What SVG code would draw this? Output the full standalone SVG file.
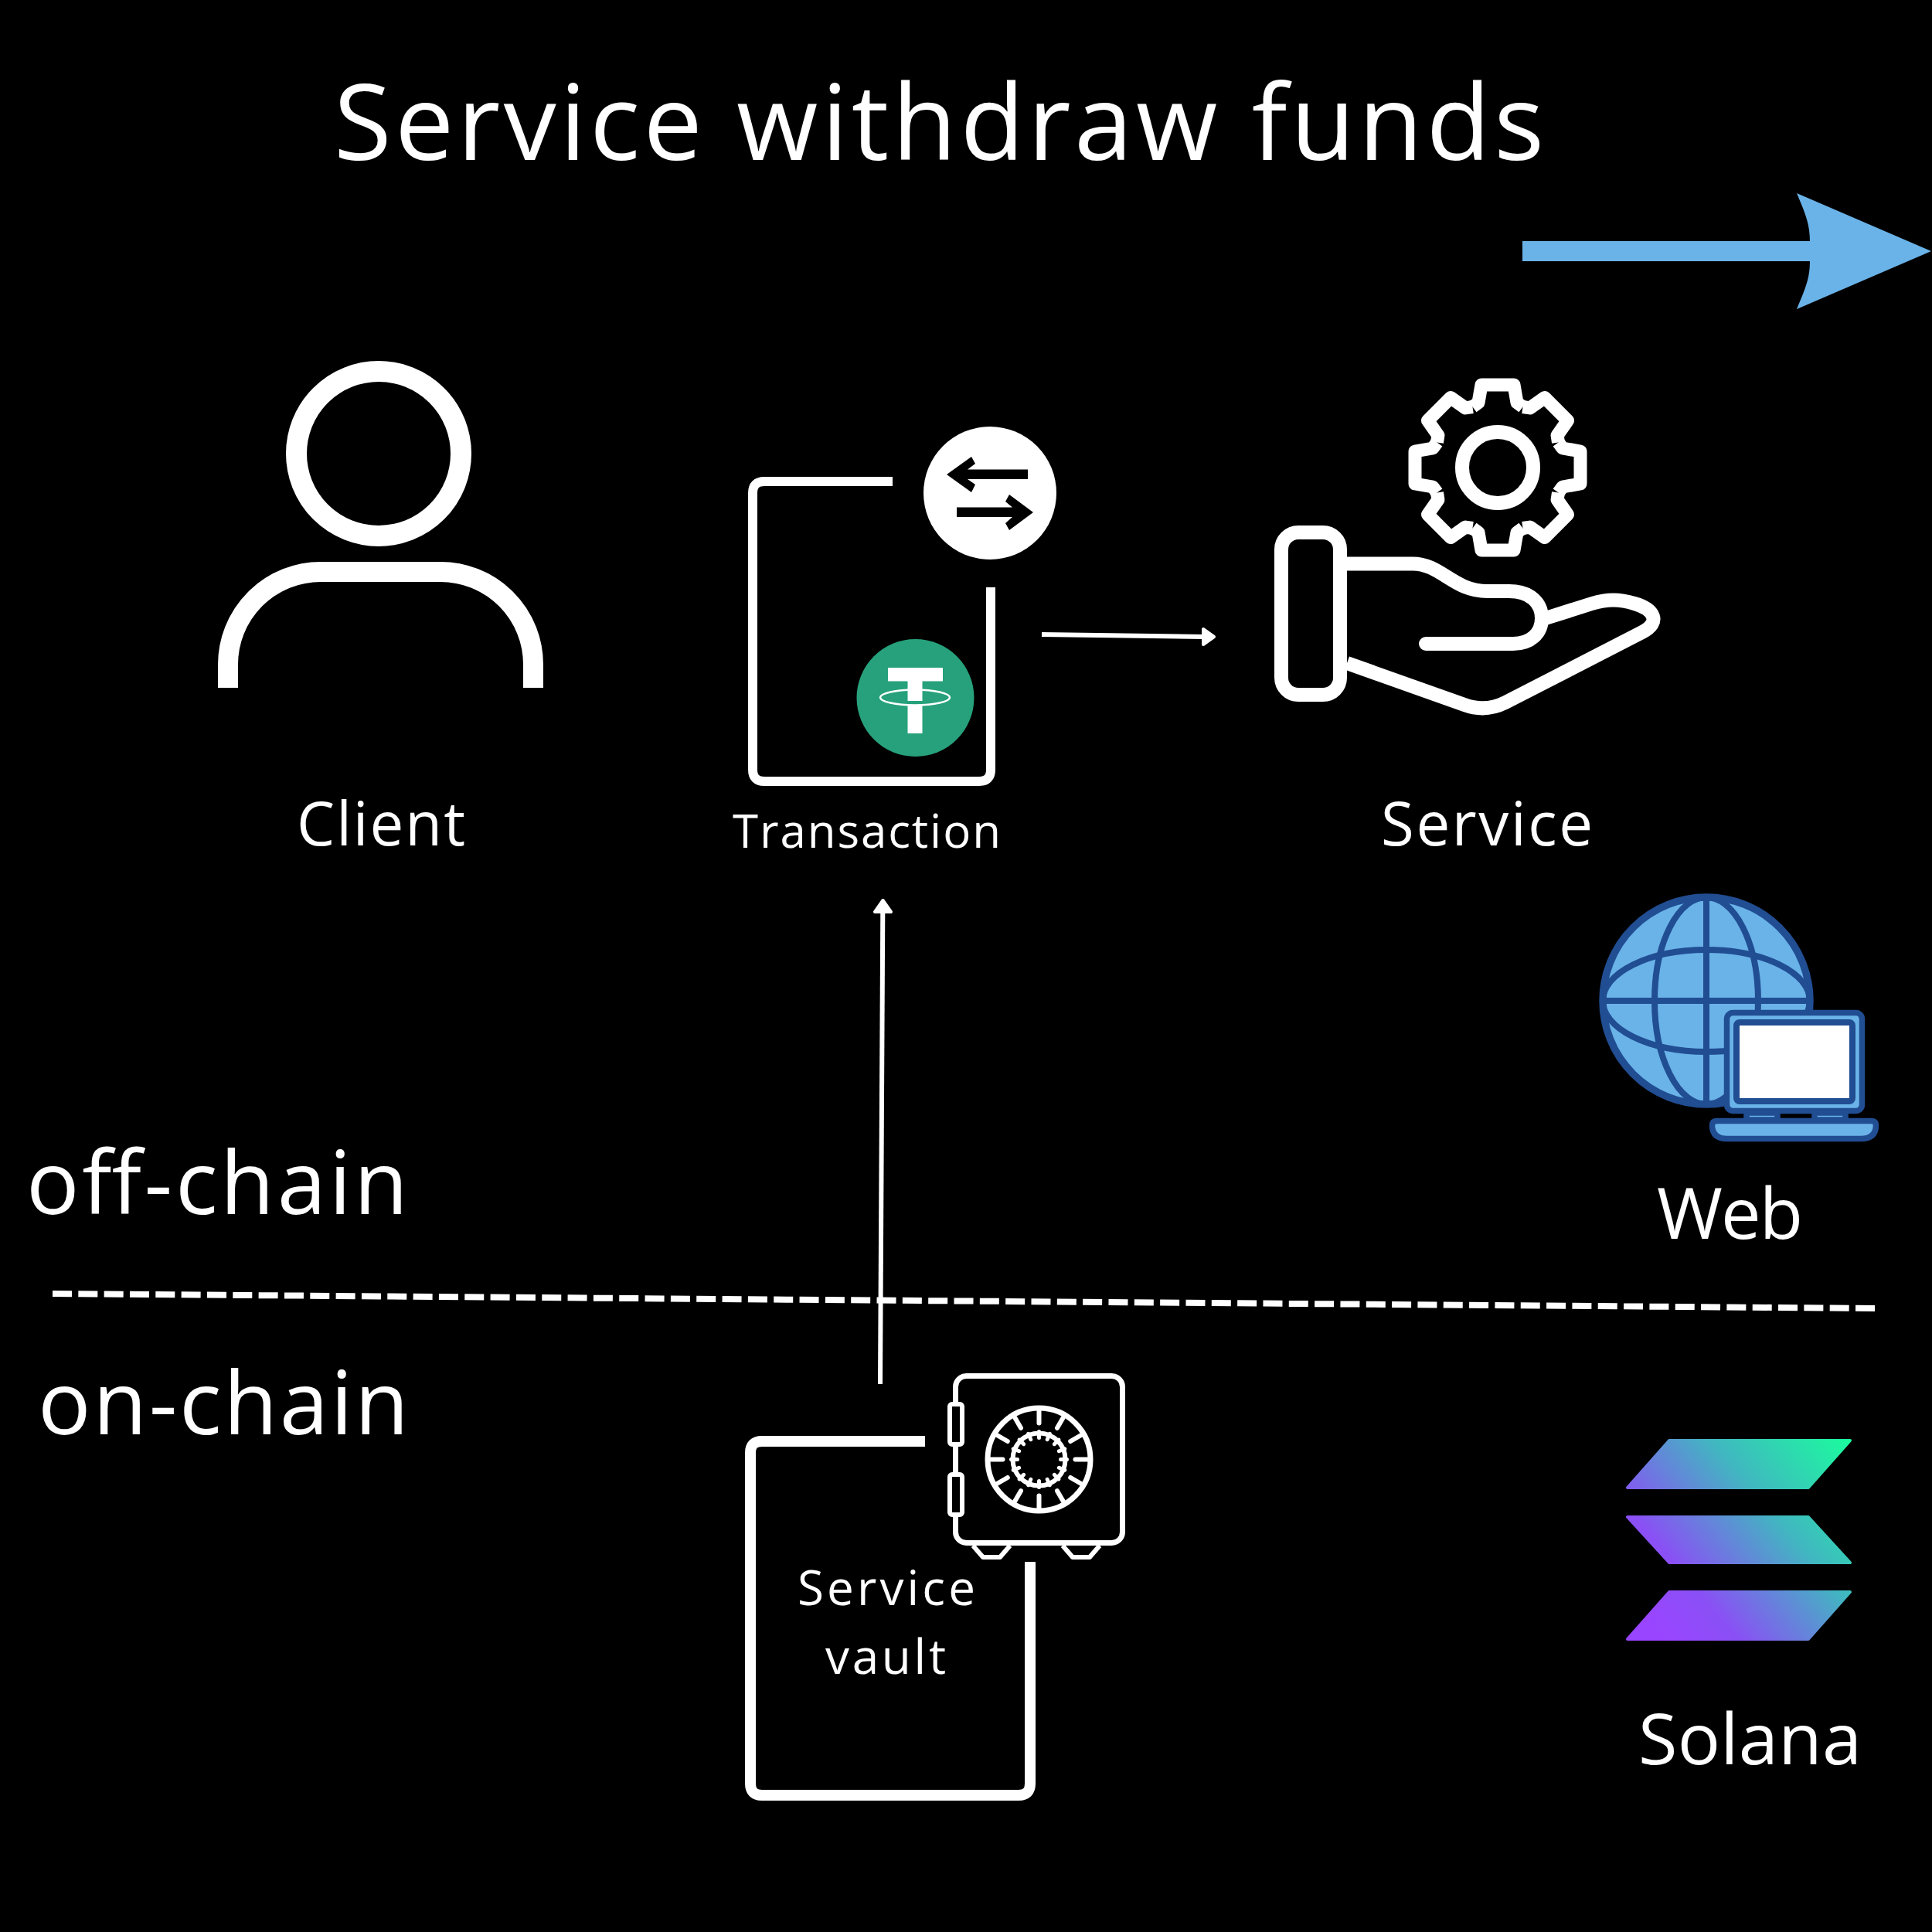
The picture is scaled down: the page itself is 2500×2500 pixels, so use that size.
<svg xmlns="http://www.w3.org/2000/svg" width="2500" height="2500" viewBox="0 0 2500 2500">
<style>
text{font-family:"Open Sans","Noto Sans","Liberation Sans",sans-serif;fill:#fff;font-weight:400}
.w{fill:none;stroke:#fff;stroke-linejoin:round}
.g{fill:none;stroke:#214d92;stroke-width:8}
.gf{fill:#6ab3e8;stroke:#214d92;stroke-width:7.5;stroke-linejoin:round}
.sol{fill:url(#solgrad);stroke:url(#solgrad);stroke-width:4;stroke-linejoin:round}
</style>
<defs>
<linearGradient id="solgrad" gradientUnits="userSpaceOnUse" x1="2400" y1="1860" x2="2130" y2="2090">
<stop offset="0" stop-color="#19ff9c"/><stop offset="0.4" stop-color="#40b8c0"/><stop offset="0.8" stop-color="#8a50f5"/><stop offset="1" stop-color="#9945ff"/>
</linearGradient>
<path id="tooth" d="M-32.5,-78.5 L-25,-84 L-21,-107 H21 L25,-84 L32.5,-78.5"/>
<path id="tick" d="M0,-47 V-63"/>
<path id="mini" d="M0,-36 V-28"/>
</defs>
<rect width="2500" height="2500" fill="#000"/>

<text id="title" x="432" y="207" font-size="136" textLength="1566" lengthAdjust="spacing">Service withdraw funds</text>

<g id="direction-arrow">
<path d="M1970,312 H2342 C2342,290 2336,276 2325,250 L2499,325 L2325,400 C2336,374 2342,360 2342,338 H1970 Z" fill="#6ab3e8"/>
</g>

<g id="client">
<circle cx="490" cy="587" r="106.5" fill="none" stroke="#fff" stroke-width="27"/>
<path d="M295,890 V860 A120,120 0 0 1 415,740 H570 A120,120 0 0 1 690,860 V890" fill="none" stroke="#fff" stroke-width="26"/>
<text x="384" y="1094" font-size="78" textLength="218" lengthAdjust="spacing">Client</text>
</g>

<g id="transaction">
<path class="w" stroke-width="12" d="M1155,623 H989 Q974,623 974,638 V996 Q974,1011 989,1011 H1267 Q1282,1011 1282,996 V760"/>
<circle cx="1281" cy="638" r="86" fill="#fff"/>
<path d="M1225,614 L1257,591 L1262,600 L1252,607.5 H1330 V620 H1252 L1262,627 L1257,637 Z" fill="#000"/>
<path d="M1337,663 L1306,640 L1301,649 L1310,656.5 H1238 V669 H1310 L1301,677 L1306,686 Z" fill="#000"/>
<circle cx="1184.5" cy="903" r="76" fill="#26a17b"/>
<path d="M1149,864 H1220 V881.5 H1193.5 V907 H1174.5 V881.5 H1149 Z M1174.5,913 H1193.5 V949 H1174.5 Z" fill="#fff"/>
<ellipse cx="1184" cy="902.5" rx="45" ry="10" fill="none" stroke="#fff" stroke-width="2.5"/>
<text x="948" y="1097" font-size="60" textLength="347" lengthAdjust="spacing">Transaction</text>
</g>

<g id="service">
<g transform="translate(1938,605)" class="w" stroke-width="17">
<use href="#tooth"/>
<use href="#tooth" transform="rotate(45)"/>
<use href="#tooth" transform="rotate(90)"/>
<use href="#tooth" transform="rotate(135)"/>
<use href="#tooth" transform="rotate(180)"/>
<use href="#tooth" transform="rotate(225)"/>
<use href="#tooth" transform="rotate(270)"/>
<use href="#tooth" transform="rotate(315)"/>
<circle r="46" stroke-width="18"/>
</g>
<rect class="w" stroke-width="18" x="1658" y="689" width="76" height="210" rx="22"/>
<path class="w" stroke-width="18" stroke-linecap="round" d="M1743,729.5 H1828 C1865,729.5 1880,765 1925,765 H1953 C1980,765 1995,780 1995,800 C1995,820 1980,833 1958,833 H1845"/>
<path class="w" stroke-width="18" d="M1743,858 L1895,912 Q1922,922 1948,909 L2125,818 C2150,805 2140,788 2115,781 C2095,775 2080,775 2060,781 L2000,800"/>
<text x="1787" y="1094" font-size="78" textLength="274" lengthAdjust="spacing">Service</text>
</g>

<g id="web">
<circle cx="2208" cy="1295" r="134" fill="#6ab3e8" stroke="#214d92" stroke-width="9.5"/>
<ellipse class="g" cx="2208" cy="1295" rx="67" ry="134"/>
<ellipse class="g" cx="2208" cy="1295" rx="134" ry="66"/>
<path class="g" d="M2208,1161 V1429 M2074,1295 H2342"/>
<rect class="gf" x="2234.5" y="1310.5" width="175" height="127" rx="8"/>
<rect x="2247" y="1323" width="150" height="102" rx="4" fill="#fff" stroke="#214d92" stroke-width="8"/>
<rect class="gf" x="2260" y="1440" width="40" height="9"/>
<rect class="gf" x="2348" y="1440" width="40" height="9"/>
<path class="gf" d="M2222,1450.5 H2421 Q2427.5,1450.5 2427.5,1456 Q2427.5,1473.5 2408,1473.5 H2235 Q2215.5,1473.5 2215.5,1456 Q2215.5,1450.5 2222,1450.5 Z"/>
<text x="2144" y="1603" font-size="92" textLength="189" lengthAdjust="spacing">Web</text>
</g>

<text id="off-chain" x="34" y="1570.7" font-size="114" textLength="494" lengthAdjust="spacing">off-chain</text>
<text id="on-chain" x="49" y="1855.7" font-size="114" textLength="480" lengthAdjust="spacing">on-chain</text>

<g id="connectors">
<path d="M68,1674 L2427,1693" fill="none" stroke="#fff" stroke-width="8" stroke-dasharray="25 8.33"/>
<path d="M1139,1791 L1142.3,1180" fill="none" stroke="#fff" stroke-width="6"/>
<path d="M1142.5,1165 L1153,1180 H1132 Z" fill="#fff" stroke="#fff" stroke-width="4" stroke-linejoin="round"/>
<path d="M1348,821 L1558,824" fill="none" stroke="#fff" stroke-width="6"/>
<path d="M1571,824 L1557,814 V834 Z" fill="#fff" stroke="#fff" stroke-width="4" stroke-linejoin="round"/>
</g>

<g id="service-vault">
<path class="w" stroke-width="14" d="M1197,1865 H986 Q971,1865 971,1880 V2308 Q971,2323 986,2323 H1318 Q1333,2323 1333,2308 V2021"/>
<rect class="w" stroke-width="7" x="1236.5" y="1780.5" width="216" height="216" rx="14"/>
<rect x="1229" y="1817" width="16" height="52" rx="3" fill="#000" stroke="#fff" stroke-width="6"/>
<rect x="1229" y="1908" width="16" height="52" rx="3" fill="#000" stroke="#fff" stroke-width="6"/>
<path class="w" stroke-width="6" d="M1259,2000 L1272,2015 H1294 L1307,2000 M1375,2000 L1388,2015 H1410 L1423,2000"/>
<g transform="translate(1344.5,1888.5)" class="w" stroke-linecap="round">
<circle r="66.5" stroke-width="7"/>
<circle r="34" stroke-width="6"/>
<g stroke-width="6">
<use href="#tick"/><use href="#tick" transform="rotate(30)"/><use href="#tick" transform="rotate(60)"/><use href="#tick" transform="rotate(90)"/><use href="#tick" transform="rotate(120)"/><use href="#tick" transform="rotate(150)"/><use href="#tick" transform="rotate(180)"/><use href="#tick" transform="rotate(210)"/><use href="#tick" transform="rotate(240)"/><use href="#tick" transform="rotate(270)"/><use href="#tick" transform="rotate(300)"/><use href="#tick" transform="rotate(330)"/>
</g>
<g stroke-width="5">
<use href="#mini"/><use href="#mini" transform="rotate(22.5)"/><use href="#mini" transform="rotate(45)"/><use href="#mini" transform="rotate(67.5)"/><use href="#mini" transform="rotate(90)"/><use href="#mini" transform="rotate(112.5)"/><use href="#mini" transform="rotate(135)"/><use href="#mini" transform="rotate(157.5)"/><use href="#mini" transform="rotate(180)"/><use href="#mini" transform="rotate(202.5)"/><use href="#mini" transform="rotate(225)"/><use href="#mini" transform="rotate(247.5)"/><use href="#mini" transform="rotate(270)"/><use href="#mini" transform="rotate(292.5)"/><use href="#mini" transform="rotate(315)"/><use href="#mini" transform="rotate(337.5)"/>
</g>
</g>
<text x="1032" y="2077" font-size="62" textLength="230" lengthAdjust="spacing">Service</text>
<text x="1068" y="2166" font-size="62" textLength="156" lengthAdjust="spacing">vault</text>
</g>

<g id="solana">
<path class="sol" d="M2106,1925 L2160,1864 H2394 L2340,1925 Z"/>
<path class="sol" d="M2106,1963 H2340 L2394,2022 H2160 Z"/>
<path class="sol" d="M2106,2121 L2160,2060 H2394 L2340,2121 Z"/>
<text x="2120" y="2283" font-size="92" textLength="289" lengthAdjust="spacing">Solana</text>
</g>
</svg>
